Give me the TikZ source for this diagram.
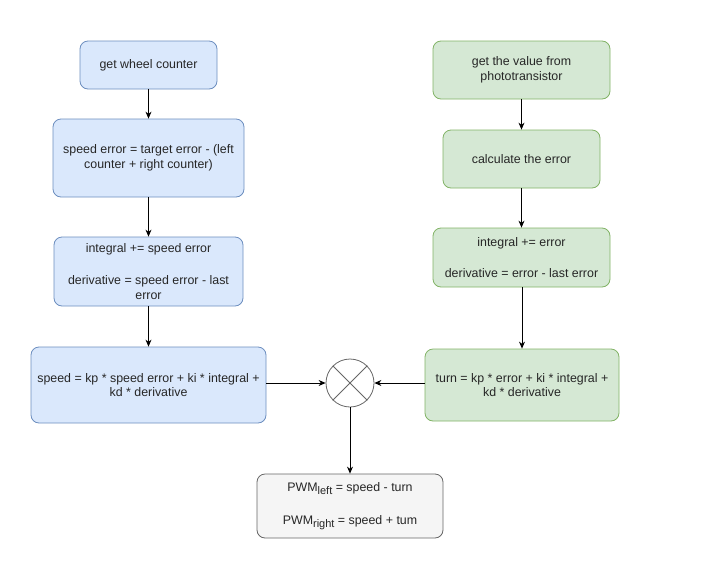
\documentclass[tikz,border=0pt]{standalone}
\usepackage{fontspec}
\setmainfont{Liberation Sans}
\usetikzlibrary{arrows.meta}

\definecolor{blueFill}{HTML}{DAE8FC}
\definecolor{blueLine}{HTML}{6C8EBF}
\definecolor{greenFill}{HTML}{D5E8D4}
\definecolor{greenLine}{HTML}{82B366}
\definecolor{grayFill}{HTML}{F5F5F5}
\definecolor{grayLine}{HTML}{666666}

\tikzset{
	box/.style = {rectangle, rounded corners=8pt, draw, line width=0.8pt, align=center,
		inner sep=2pt, font=\fontsize{12.4}{14.5}\selectfont, text=black!85},
	bluebox/.style = {box, fill=blueFill, draw=blueLine},
	greenbox/.style = {box, fill=greenFill, draw=greenLine},
	graybox/.style = {box, fill=grayFill, draw=grayLine},
	flow/.style = {-{Stealth[length=7pt,width=6pt]}, line width=0.8pt, black}
}

\newcommand{\pwmsub}[1]{\raisebox{-3pt}{\fontsize{11}{12}\selectfont #1}}

\begin{document}
\begin{tikzpicture}[x=1pt,y=-1pt]
				% page frame
				\useasboundingbox (0,0) rectangle (707,568);
				
				% left column: wheel speed
				\node[bluebox, minimum width=137, minimum height=48] (wheel) at (148.5,65) {get wheel counter};
				\node[bluebox, minimum width=191, minimum height=78] (speederr) at (148.5,158)
					{speed error = target error - (left\\counter + right counter)};
				\node[bluebox, minimum width=189, minimum height=69] (speedint) at (148.5,271.5)
					{integral += speed error\\[18pt]derivative = speed error - last\\error};
				\node[bluebox, minimum width=235, minimum height=76] (speed) at (148.5,385)
					{speed = kp * speed error + ki * integral +\\kd * derivative};
				
				% right column: line position
				\node[greenbox, minimum width=177, minimum height=58] (photo) at (521.5,70)
					{get the value from\\phototransistor};
				\node[greenbox, minimum width=157, minimum height=58] (calcerr) at (521.5,159) {calculate the error};
				\node[greenbox, minimum width=177, minimum height=59] (turnint) at (521.5,257.5)
					{integral += error\\[16pt]derivative = error - last error};
				\node[greenbox, minimum width=194, minimum height=72] (turn) at (522,385)
					{turn = kp * error + ki * integral +\\kd * derivative};
				
				% mixer
				\node[circle, draw=grayLine, fill=white, line width=0.8pt, minimum size=48, inner sep=0] (mix) at (350,383) {};
				\draw[grayLine, line width=0.8pt] (mix.45) -- (mix.225) (mix.135) -- (mix.315);
				
				\node[graybox, minimum width=186, minimum height=64] (pwm) at (350,506)
					{PWM\pwmsub{left} = speed - turn\\[18pt]PWM\pwmsub{right} = speed + tum};
				
				% connectors
				\draw[flow] (wheel) -- (speederr);
				\draw[flow] (speederr) -- (speedint);
				\draw[flow] (speedint) -- (speed);
				\draw[flow] (photo) -- (calcerr);
				\draw[flow] (calcerr) -- (turnint);
				\draw[flow] (turnint.south -| turn.north) -- (turn.north);
				\draw[flow] (speed.east |- mix.west) -- (mix.west);
				\draw[flow] (turn.west |- mix.east) -- (mix.east);
				\draw[flow] (mix) -- (pwm);
				
\end{tikzpicture}
\end{document}
